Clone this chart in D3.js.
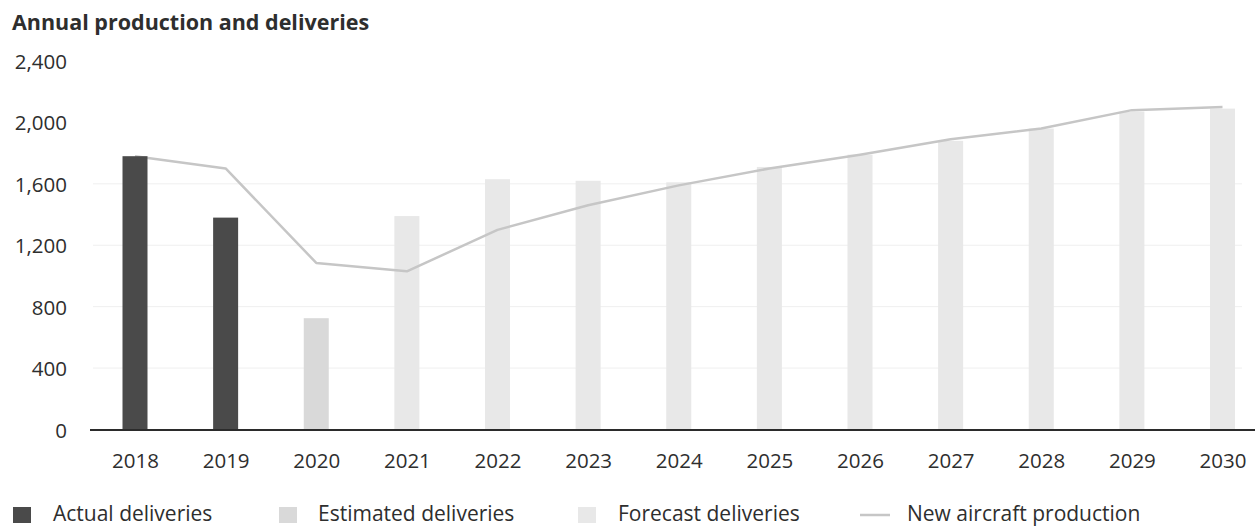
<!DOCTYPE html>
<html>
<head>
<meta charset="utf-8">
<script src="https://cdn.jsdelivr.net/npm/d3@7"></script>
<style>
  html, body { margin: 0; padding: 0; background: #fff; }
  svg { display: block; font-family: "Open Sans", "Noto Sans", sans-serif; }
</style>
</head>
<body>
<svg id="chart" width="1255" height="527"></svg>
<script>
// Years on the category axis
const years = ["2018", "2019", "2020", "2021", "2022", "2023", "2024",
               "2025", "2026", "2027", "2028", "2029", "2030"];

// Deliveries per year, split by status (null where the status does not apply)
const actualDeliveries    = [1780, 1380, null, null, null, null, null, null, null, null, null, null, null];
const estimatedDeliveries = [null, null, 725, null, null, null, null, null, null, null, null, null, null];
const forecastDeliveries  = [null, null, null, 1390, 1630, 1620, 1610, 1710, 1790, 1880, 1960, 2070, 2090];

// New aircraft production per year
const newProduction = [1780, 1700, 1085, 1030, 1300, 1460, 1590, 1700, 1790, 1890, 1960, 2080, 2100];

// Value axis ticks and gridlines
const yTicks = [0, 400, 800, 1200, 1600, 2000, 2400];
const gridValues = [400, 800, 1200, 1600];

const legendItems = ["Actual deliveries", "Estimated deliveries", "Forecast deliveries", "New aircraft production"];

const colors = {
  actual: "#4a4a4a",
  estimated: "#d9d9d9",
  forecast: "#e8e8e8",
  line: "#c6c6c6",
  text: "#2e2e2e",
  axis: "#2b2b2b",
  grid: "#efefef"
};

const svg = d3.select("#chart");

const x = d3.scalePoint().domain(years).range([135, 1222.5]);
const y = d3.scaleLinear().domain([0, 2400]).range([429.5, 61]);
const barW = 25;

// Title
svg.append("text")
  .attr("x", 12).attr("y", 30)
  .attr("font-size", 21.5).attr("font-weight", 700)
  .attr("fill", colors.text)
  .text("Annual production and deliveries");

// Gridlines
svg.append("g").selectAll("line").data(gridValues).join("line")
  .attr("x1", 93).attr("x2", 1242)
  .attr("y1", d => y(d)).attr("y2", d => y(d))
  .attr("stroke", colors.grid).attr("stroke-width", 1);

// Value axis labels
const yAxis = d3.axisLeft(y).tickValues(yTicks).tickFormat(d3.format(",")).tickSize(0).tickPadding(0);
const yg = svg.append("g").attr("transform", "translate(67,1)").call(yAxis);
yg.select(".domain").remove();
yg.selectAll("text").attr("font-size", 20.5).attr("fill", colors.text)
  .attr("font-family", "Open Sans, Noto Sans, sans-serif");

// Bars
function drawBars(values, color, cls) {
  const data = years.map((yr, i) => ({ year: yr, value: values[i] })).filter(d => d.value != null);
  svg.append("g").attr("class", cls).selectAll("rect").data(data).join("rect")
    .attr("x", d => x(d.year) - barW / 2)
    .attr("width", barW)
    .attr("y", d => y(d.value))
    .attr("height", d => y(0) - y(d.value))
    .attr("fill", color);
}
drawBars(estimatedDeliveries, colors.estimated, "estimated");
drawBars(forecastDeliveries, colors.forecast, "forecast");

// Production line
const line = d3.line()
  .x((d, i) => x(years[i]))
  .y(d => y(d));
svg.append("path")
  .datum(newProduction)
  .attr("d", line)
  .attr("fill", "none")
  .attr("stroke", colors.line)
  .attr("stroke-width", 2.5)
  .attr("stroke-linejoin", "round");

drawBars(actualDeliveries, colors.actual, "actual");

// Category axis
const xAxis = d3.axisBottom(x).tickSize(0).tickPadding(0);
const xg = svg.append("g").attr("transform", "translate(0,430)").call(xAxis);
xg.select(".domain").remove();
xg.selectAll("text").attr("font-size", 20.5).attr("fill", colors.text)
  .attr("dy", "1.85em")
  .attr("font-family", "Open Sans, Noto Sans, sans-serif");

svg.append("line")
  .attr("x1", 90).attr("x2", 1255)
  .attr("y1", y(0) + 0.5).attr("y2", y(0) + 0.5)
  .attr("stroke", colors.axis).attr("stroke-width", 2);

// Legend
const legendX = [13, 279, 578, 860];
const legendTextX = [53, 318, 618, 907];
const legend = svg.append("g");
const swatchColors = [colors.actual, colors.estimated, colors.forecast];
legendItems.forEach((label, i) => {
  if (i < 3) {
    legend.append("rect")
      .attr("x", legendX[i]).attr("y", 507)
      .attr("width", 18).attr("height", 16)
      .attr("fill", swatchColors[i]);
  } else {
    legend.append("line")
      .attr("x1", legendX[i]).attr("x2", legendX[i] + 30)
      .attr("y1", 515).attr("y2", 515)
      .attr("stroke", colors.line).attr("stroke-width", 2.5);
  }
  legend.append("text")
    .attr("x", legendTextX[i]).attr("y", 521)
    .attr("font-size", 21).attr("fill", colors.text)
    .text(label);
});
</script>
</body>
</html>
